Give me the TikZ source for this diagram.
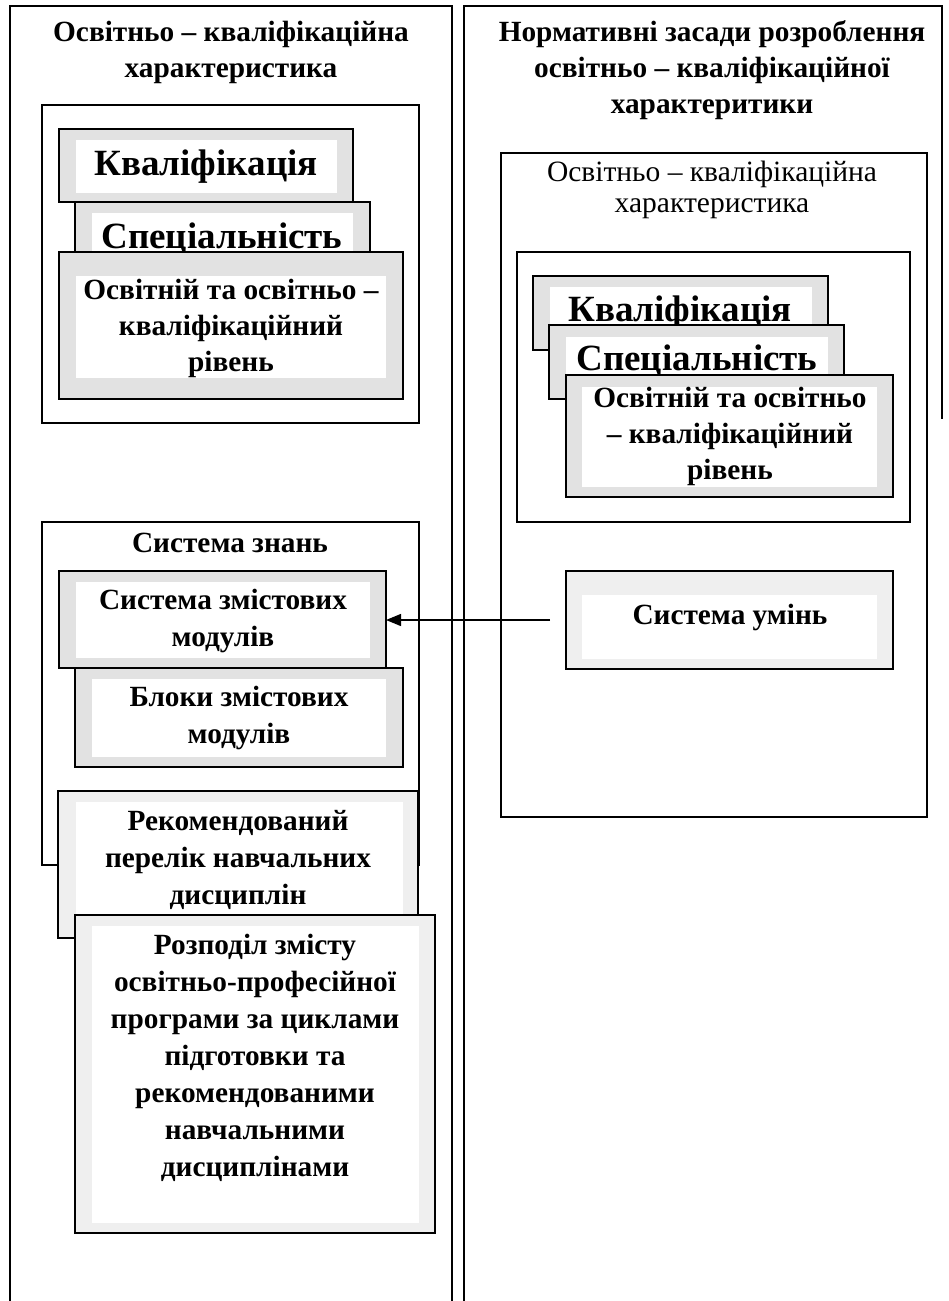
\documentclass[tikz,border=0pt]{standalone}
\usepackage{fontspec}
\setmainfont{Liberation Serif}
\usetikzlibrary{arrows.meta}
\definecolor{bandgray}{HTML}{E2E2E2}
\definecolor{bandlight}{HTML}{EFEFEF}
\newcommand\bigb{\bfseries\fontsize{37}{40}\selectfont}
\newcommand\midb{\bfseries\fontsize{29.3}{36}\selectfont}
\newcommand\lowb{\bfseries\fontsize{29.3}{37}\selectfont}
\newcommand\midr{\fontsize{29.5}{31}\selectfont}
\begin{document}
\begin{tikzpicture}[x=1pt,y=-1pt,
  frame/.style={draw,line width=1.3pt,anchor=north west,inner sep=0pt,outer sep=0pt},
  band/.style={draw,line width=1.8pt,fill=bandgray,anchor=north west,inner sep=0pt,outer sep=0pt},
  lband/.style={band,fill=bandlight},
  sheet/.style={fill=white,anchor=north west,inner sep=0pt,outer sep=0pt},
  txt/.style={align=center,inner sep=0pt},
  link/.style={line width=1.3pt,-{Triangle[length=15pt,width=12pt]}}]
\useasboundingbox (0,0) rectangle (949,1301);
\fill[white] (0,0) rectangle (949,1301);

% two outer columns, open at the bottom
\draw[line width=1.3pt] (10,1310) -- (10,6) -- (452,6) -- (452,1310);
\draw[line width=1.3pt] (464,1310) -- (464,6) -- (942,6) -- (942,419);

% ---------- left column ----------
\node[txt,font=\midb] (ltitle) at (231,52) {Освітньо – кваліфікаційна\\характеристика};
\node[frame,minimum width=377pt,minimum height=318pt] (lokh) at (42,105) {};

\node[band,minimum width=294pt,minimum height=73pt] (lkv) at (59,129) {};
\node[sheet,minimum width=261pt,minimum height=53pt] (lkvw) at (76,140) {};
\node[txt,font=\bigb,anchor=base] (lkvt) at (206,175) {Кваліфікація};

\node[band,minimum width=295pt,minimum height=73pt] (lsp) at (75,202) {};
\node[sheet,minimum width=261pt,minimum height=50pt] (lspw) at (92,213) {};
\node[txt,font=\bigb,anchor=base] (lspt) at (222,248) {Спеціальність};

\node[band,minimum width=344pt,minimum height=147pt] (lor) at (59,252) {};
\node[sheet,minimum width=310pt,minimum height=102pt] (lorw) at (76,276) {};
\node[txt,font=\midb] (lort) at (231,328) {Освітній та освітньо –\\кваліфікаційний\\рівень};

\node[frame,minimum width=377pt,minimum height=343pt] (lsz) at (42,522) {};
\node[txt,font=\midb] (lszt) at (230,543) {Система знань};

\node[band,minimum width=327pt,minimum height=97pt] (lzm) at (59,571) {};
\node[sheet,minimum width=294pt,minimum height=76pt] (lzmw) at (76,582) {};
\node[txt,font=\lowb] (lzmt) at (223,621) {Система змістових\\модулів};

\node[band,minimum width=328pt,minimum height=99pt] (lbl) at (75,668) {};
\node[sheet,minimum width=294pt,minimum height=78pt] (lblw) at (92,679) {};
\node[txt,font=\lowb] (lblt) at (239,718) {Блоки змістових\\модулів};

\node[lband,minimum width=360pt,minimum height=147pt] (lrp) at (58,791) {};
\node[sheet,minimum width=327pt,minimum height=124pt] (lrpw) at (76,802) {};
\node[txt,font=\lowb] (lrpt) at (238,860) {Рекомендований\\перелік навчальних\\дисциплін};

\node[lband,minimum width=360pt,minimum height=318pt] (lrz) at (75,915) {};
\node[sheet,minimum width=327pt,minimum height=297pt] (lrzw) at (92,926) {};
\node[txt,font=\lowb] (lrzt) at (255,1058) {Розподіл змісту\\освітньо-професійної\\програми за циклами\\підготовки та\\рекомендованими\\навчальними\\дисциплінами};

% ---------- right column ----------
\node[txt,font=\midb] (rtitle) at (712,70) {Нормативні засади розроблення\\освітньо – кваліфікаційної\\характеритики};
\node[frame,minimum width=426pt,minimum height=664pt] (rnz) at (501,153) {};
\node[txt,font=\midr] (rnzt) at (712,190) {Освітньо – кваліфікаційна\\характеристика};
\node[frame,minimum width=393pt,minimum height=270pt] (rokh) at (517,252) {};

\node[band,minimum width=295pt,minimum height=74pt] (rkv) at (533,276) {};
\node[sheet,minimum width=262pt,minimum height=55pt] (rkvw) at (550,287) {};
\node[txt,font=\bigb,anchor=base] (rkvt) at (680,321) {Кваліфікація};

\node[band,minimum width=295pt,minimum height=74pt] (rsp) at (549,325) {};
\node[sheet,minimum width=262pt,minimum height=52pt] (rspw) at (566,337) {};
\node[txt,font=\bigb,anchor=base] (rspt) at (697,370) {Спеціальність};

\node[band,minimum width=327pt,minimum height=122pt] (ror) at (566,375) {};
\node[sheet,minimum width=295pt,minimum height=100pt] (rorw) at (582,387) {};
\node[txt,font=\midb] (rort) at (730,436) {Освітній та освітньо\\– кваліфікаційний\\рівень};

\node[lband,minimum width=327pt,minimum height=98pt] (rum) at (566,571) {};
\node[sheet,minimum width=295pt,minimum height=64pt] (rumw) at (582,595) {};
\node[txt,font=\midb] (rumt) at (730,617) {Система умінь};

% skills feed the system of content modules
\coordinate (arrstart) at (550,620);
\draw[link] (arrstart) -- (lzm.east |- arrstart);
\end{tikzpicture}
\end{document}
